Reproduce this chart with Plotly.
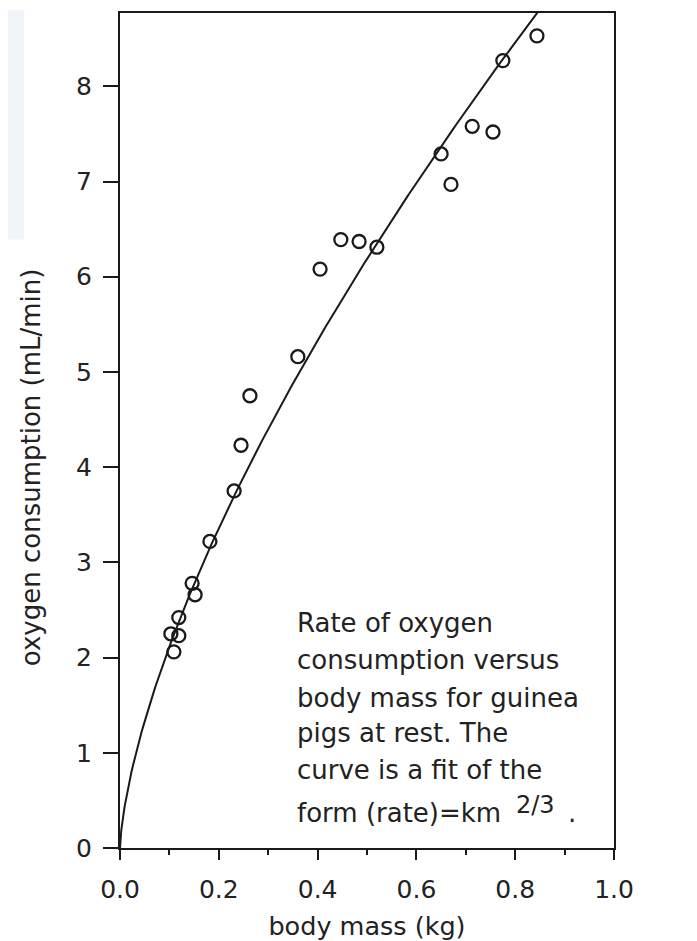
import numpy as np
import plotly.graph_objects as go

# Measured data: body mass (kg) vs oxygen consumption (mL/min)
mass_kg = [0.844, 0.775, 0.713, 0.755, 0.650, 0.670, 0.520, 0.484, 0.447, 0.405,
           0.360, 0.263, 0.245, 0.231, 0.182, 0.146, 0.152, 0.119, 0.103, 0.119, 0.109]
oxygen_ml_min = [8.53, 8.27, 7.58, 7.52, 7.29, 6.97, 6.31, 6.37, 6.39, 6.08,
                 5.16, 4.75, 4.23, 3.75, 3.22, 2.78, 2.66, 2.42, 2.25, 2.23, 2.06]

# Fit parameters: rate = k * m^(2/3)
fit_k = 9.82
fit_exponent = 2.0 / 3.0

x_ticks = [0.0, 0.2, 0.4, 0.6, 0.8, 1.0]
x_tick_labels = ["0.0", "0.2", "0.4", "0.6", "0.8", "1.0"]
y_ticks = [0, 1, 2, 3, 4, 5, 6, 7, 8]
y_tick_labels = ["0", "1", "2", "3", "4", "5", "6", "7", "8"]

caption_lines = ["Rate of oxygen", "consumption versus", "body mass for guinea",
                 "pigs at rest. The", "curve is a fit of the", "form (rate)=km"]
caption_sup = "2/3"

FONT = "DejaVu Sans"
INK = "#1a1a1a"
TXT = "#222"

fit_x = np.concatenate([np.linspace(0, 0.02, 81), np.linspace(0.02, 0.9, 300)])
fit_y = fit_k * fit_x ** fit_exponent

fig = go.Figure()
fig.add_trace(go.Scatter(x=fit_x, y=fit_y, mode="lines",
                         line=dict(color=INK, width=2), hoverinfo="skip"))
fig.add_trace(go.Scatter(x=mass_kg, y=oxygen_ml_min, mode="markers",
                         marker=dict(symbol="circle-open", size=13, color=INK,
                                     line=dict(width=2.3, color=INK))))

# page has an 8px body margin, so the figure is sized to fit inside the window
W, H = 689, 933
L, R, T, B = 112, 83, 3, 93
ymax = 8.77

axis_common = dict(showline=True, linecolor=INK, linewidth=2, mirror=True,
                   showgrid=False, zeroline=False, ticks="outside",
                   tickcolor=INK, tickwidth=2,
                   tickfont=dict(family=FONT, size=25, color=TXT))

fig.update_layout(
    width=W, height=H,
    margin=dict(l=L, r=R, t=T, b=B),
    paper_bgcolor="white", plot_bgcolor="white",
    showlegend=False,
    xaxis=dict(range=[0, 1.0], tickvals=x_ticks, ticktext=x_tick_labels,
               ticklen=10, ticklabelstandoff=8,
               minor=dict(dtick=0.1, ticks="outside", ticklen=5, tickwidth=2,
                          tickcolor=INK, showgrid=False),
               title=dict(text="body mass (kg)", standoff=14,
                          font=dict(family=FONT, size=25.5, color=TXT)),
               **axis_common),
    yaxis=dict(range=[0, ymax], tickvals=y_ticks, ticktext=y_tick_labels,
               ticklen=15, ticklabelstandoff=6, **axis_common),
)

pw = W - L - R
ph = H - T - B

# y-axis title positioned as in the reference (centred slightly low)
fig.add_annotation(text="oxygen consumption (mL/min)", textangle=-90,
                   xref="paper", yref="y", x=(23 - L) / pw, y=4.0,
                   showarrow=False, xanchor="center", yanchor="middle",
                   font=dict(family=FONT, size=26, color=TXT))

# caption
caption_y = [2.36, 1.97, 1.58, 1.205, 0.818, 0.367]
for line, yy in zip(caption_lines, caption_y):
    fig.add_annotation(text=line, x=0.355, y=yy, xref="x", yref="y",
                       xanchor="left", yanchor="middle", showarrow=False,
                       font=dict(family=FONT, size=26, color=TXT))
fig.add_annotation(text=caption_sup, x=0.798, y=0.45, xref="x", yref="y",
                   xanchor="left", yanchor="middle", showarrow=False,
                   font=dict(family=FONT, size=24, color=TXT))
fig.add_annotation(text=".", x=0.915, y=0.37, xref="x", yref="y",
                   xanchor="center", yanchor="middle", showarrow=False,
                   font=dict(family=FONT, size=26, color=TXT))

# faint light-blue tint at the top-left edge of the picture
fig.add_shape(type="rect", xref="paper", yref="paper",
              x0=-L / pw, x1=(16 - L) / pw, y0=(H - B - 230) / ph, y1=(H - B) / ph,
              fillcolor="#f0f5fc", line=dict(width=0), layer="below")

fig.write_html("out.html")
